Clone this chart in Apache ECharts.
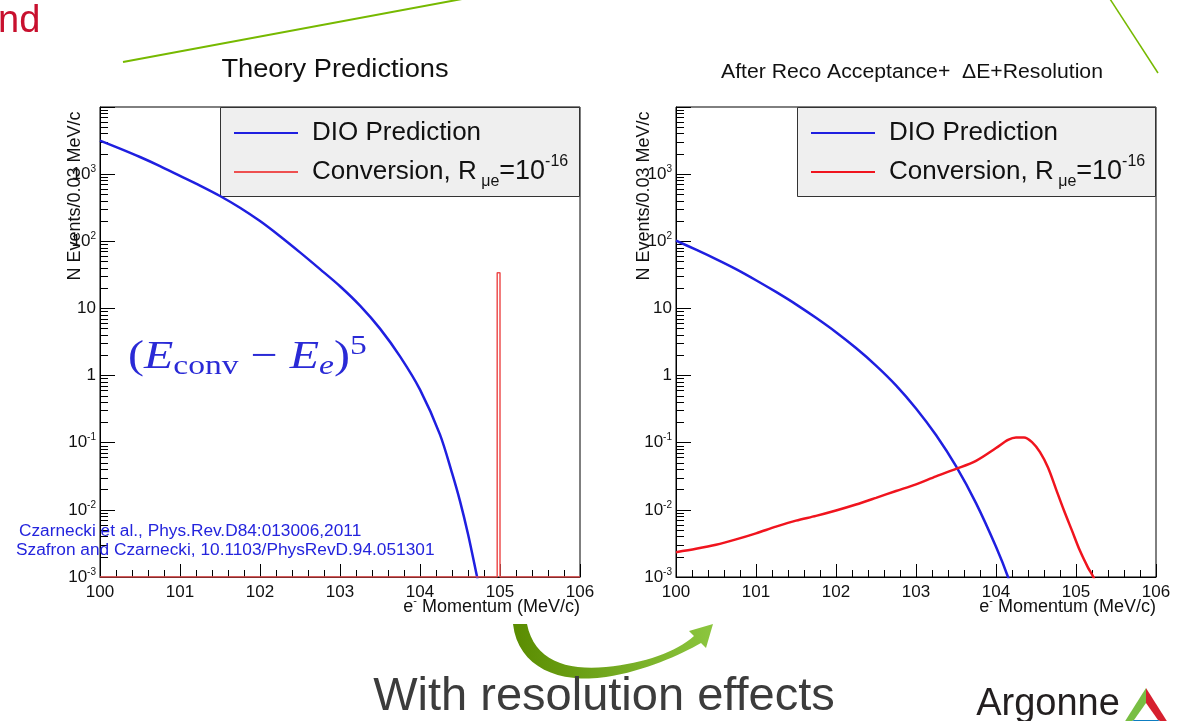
<!DOCTYPE html>
<html>
<head>
<meta charset="utf-8">
<script src="https://cdn.jsdelivr.net/npm/echarts@6/dist/echarts.min.js"></script>
<style>
html,body{margin:0;padding:0;background:#fff;}
#chart{width:1191px;height:721px;}
</style>
</head>
<body>
<div id="chart"></div>
<script>
// ---------------- data ----------------
// Left panel: theory predictions (N events / 0.03 MeV/c)
const dioLeftP = [100.00,100.25,100.50,100.75,101.00,101.25,101.50,101.75,102.00,102.25,102.50,102.75,103.00,103.25,103.50,103.75,104.00,104.25,104.40,104.50,104.60,104.70,104.73];
const dioLeftN = [3160,2400,1800,1318,944,676,473,316,200,119,68.4,38.5,21.4,11.0,5.0,1.93,0.617,0.132,0.0355,0.0135,0.00437,0.0012,0.0008];
const ceLeftP  = [100.0,104.965,104.965,105.0,105.0,106.0];
const ceLeftN  = [0.001,0.001,34,34,0.001,0.001];

// Right panel: after reco acceptance + dE + resolution
const dioRightP = [100.00,100.25,100.50,100.75,101.00,101.25,101.50,101.75,102.00,102.25,102.50,102.75,103.00,103.25,103.50,103.75,104.00,104.15,104.18];
const dioRightN = [102,75,54.3,38.5,26.3,17.6,11.5,7.24,4.42,2.57,1.41,0.716,0.324,0.130,0.0447,0.0126,0.00282,0.0010,0.0007];
const ceRightP = [100.00,100.25,100.50,100.75,101.00,101.25,101.50,101.75,102.00,102.25,102.50,102.75,103.00,103.25,103.50,103.75,104.00,104.15,104.25,104.35,104.45,104.55,104.65,104.75,104.85,104.95,105.05,105.15,105.22,105.25];
const ceRightN = [0.00234,0.00263,0.00302,0.00363,0.00447,0.00562,0.00692,0.00813,0.00977,0.0120,0.0151,0.0191,0.0240,0.0316,0.0407,0.0537,0.0832,0.110,0.120,0.120,0.102,0.0724,0.0427,0.0204,0.00977,0.0049,0.00245,0.00138,0.00098,0.0007];

// axis ranges / labels
const xMin = 100, xMax = 106, xStep = 1;
const yMin = 0.001, yMax = 10000;
const panelTitles = ['Theory Predictions', 'After Reco Acceptance+  \u0394E+Resolution'];
const yTitle = 'N Events/0.03 MeV/c';
const legendNames = { DIO: 'DIO Prediction', CE: 'Conversion, R{sub| \u03bce}{m|=10}{sup|-16}' };
const citations = ['Czarnecki et al., Phys.Rev.D84:013006,2011', 'Szafron and Czarnecki, 10.1103/PhysRevD.94.051301'];

// ---------------- chart ----------------
const FONT = '"Liberation Sans", Arial, Helvetica, sans-serif';
const SERIF = '"Liberation Serif", "DejaVu Serif", serif';
const zip = (xs, ys) => xs.map((x, i) => [x, ys[i]]);

function xAxisCfg(g) {
  return {
    type: 'value', gridIndex: g, min: xMin, max: xMax, interval: xStep,
    axisLine: { show: true, lineStyle: { color: '#000', width: 1 } },
    axisTick: { show: true, inside: true, length: 13, lineStyle: { color: '#000', width: 1 } },
    minorTick: { show: true, splitNumber: 5, length: 7, lineStyle: { color: '#000', width: 1 } },
    axisLabel: { fontSize: 17, color: '#111', margin: 7, fontFamily: FONT },
    splitLine: { show: false }, minorSplitLine: { show: false }
  };
}
function yAxisCfg(g) {
  return {
    type: 'log', logBase: 10, gridIndex: g, min: yMin, max: yMax,
    axisLine: { show: true, lineStyle: { color: '#000', width: 1 } },
    axisTick: { show: true, inside: true, length: 15, lineStyle: { color: '#000', width: 1 } },
    minorTick: { show: true, splitNumber: 9, length: 8, lineStyle: { color: '#000', width: 1 } },
    axisLabel: {
      fontSize: 17, color: '#111', margin: 4, fontFamily: FONT, lineHeight: 20,
      formatter: function (v) {
        const e = Math.round(Math.log10(v));
        if (e >= 4) return '';
        if (e === 0) return '1';
        if (e === 1) return '10';
        return '10{s|' + e + '}';
      },
      rich: { s: { fontSize: 10, lineHeight: 10, verticalAlign: 'top', fontFamily: FONT, color: '#111' } }
    },
    splitLine: { show: false }, minorSplitLine: { show: false }
  };
}
function legendCfg(left, names) {
  return {
    orient: 'vertical', left: left, top: 115, padding: 0, itemGap: 3,
    itemWidth: 64, itemHeight: 14, selectedMode: false,
    itemStyle: { opacity: 0 },
    data: names,
    formatter: function (n) { return n.indexOf('DIO') === 0 ? legendNames.DIO : legendNames.CE; },
    textStyle: {
      fontSize: 26, fontFamily: FONT, color: '#111', lineHeight: 36, padding: [0, 0, 0, 9],
      rich: {
        sub: { fontSize: 16, lineHeight: 4, verticalAlign: 'bottom', fontFamily: FONT, color: '#111' },
        m: { fontSize: 27, lineHeight: 36, fontFamily: FONT, color: '#111' },
        sup: { fontSize: 16, lineHeight: 14, verticalAlign: 'top', fontFamily: FONT, color: '#111' }
      }
    }
  };
}
function txt(x, y, text, opt) {
  opt = opt || {};
  return {
    type: 'text', x: x, y: y, rotation: opt.rotation || 0, scaleX: opt.scaleX || 1, z: opt.z || 5,
    style: {
      text: text, fill: opt.fill || '#111', fontSize: opt.fontSize || 16,
      fontFamily: opt.fontFamily || FONT, fontWeight: opt.fontWeight || 'normal',
      textAlign: opt.align || 'left', textVerticalAlign: opt.valign || 'middle',
      rich: opt.rich
    }
  };
}
const xTitleRich = { s: { fontSize: 11, lineHeight: 12, verticalAlign: 'top', fontFamily: FONT, fill: '#111' }, m: { fontSize: 18, lineHeight: 24, fontFamily: FONT, fill: '#111' } };
const xTitle = '{m|e}{s|-}{m| Momentum (MeV/c)}';

const FBLUE = '#2a2ad6';
const formulaRich = {
  p: { fontSize: 40, lineHeight: 48, fontFamily: SERIF, fill: FBLUE },
  E: { fontSize: 40, lineHeight: 48, fontFamily: SERIF, fontStyle: 'italic', fill: FBLUE },
  sub: { fontSize: 28, lineHeight: 30, verticalAlign: 'bottom', fontFamily: SERIF, fill: FBLUE },
  subi: { fontSize: 28, lineHeight: 30, verticalAlign: 'bottom', fontFamily: SERIF, fontStyle: 'italic', fill: FBLUE },
  sup: { fontSize: 28, lineHeight: 18, verticalAlign: 'top', fontFamily: SERIF, fill: FBLUE }
};

// curved decorative arrow (slide graphic), sampled from cubic curves
function cubic(p0, p1, p2, p3, n) {
  const out = [];
  for (let i = 0; i <= n; i++) {
    const t = i / n, u = 1 - t;
    out.push([u*u*u*p0[0] + 3*u*u*t*p1[0] + 3*u*t*t*p2[0] + t*t*t*p3[0],
              u*u*u*p0[1] + 3*u*u*t*p1[1] + 3*u*t*t*p2[1] + t*t*t*p3[1]]);
  }
  return out;
}
const arrowPts = [].concat(
  cubic([513,624],[518,668],[560,684],[606,677],16),
  cubic([606,677],[645,671],[680,655],[701,643],16),
  [[706,648],[713,624],[689,631],[694,636]],
  cubic([694,636],[676,652],[645,663],[606,667],16),
  cubic([606,667],[566,671],[534,660],[527,624],16)
);

const option = {
  animation: false,
  backgroundColor: '#fff',
  grid: [
    { left: 100, top: 107, width: 480, height: 470, show: true, borderColor: '#000', borderWidth: 1, backgroundColor: 'transparent' },
    { left: 676, top: 107, width: 480, height: 470, show: true, borderColor: '#000', borderWidth: 1, backgroundColor: 'transparent' }
  ],
  xAxis: [xAxisCfg(0), xAxisCfg(1)],
  yAxis: [yAxisCfg(0), yAxisCfg(1)],
  legend: [legendCfg(233, ['DIO_L', 'CE_L']), legendCfg(810, ['DIO_R', 'CE_R'])],
  series: [
    { name: 'DIO_L', type: 'line', xAxisIndex: 0, yAxisIndex: 0, data: zip(dioLeftP, dioLeftN), symbol: 'none', smooth: 0.3,
      lineStyle: { color: '#1f1fe0', width: 2.5 }, itemStyle: { color: '#1f1fe0' } },
    { name: 'CE_L', type: 'line', xAxisIndex: 0, yAxisIndex: 0, data: zip(ceLeftP, ceLeftN), symbol: 'none', smooth: false,
      lineStyle: { color: '#ee5050', width: 1.5 }, itemStyle: { color: '#ee5050' } },
    { name: 'DIO_R', type: 'line', xAxisIndex: 1, yAxisIndex: 1, data: zip(dioRightP, dioRightN), symbol: 'none', smooth: 0.3,
      lineStyle: { color: '#1f1fe0', width: 2.5 }, itemStyle: { color: '#1f1fe0' } },
    { name: 'CE_R', type: 'line', xAxisIndex: 1, yAxisIndex: 1, data: zip(ceRightP, ceRightN), symbol: 'none', smooth: 0.3,
      lineStyle: { color: '#f0141e', width: 2.5 }, itemStyle: { color: '#f0141e' } }
  ],
  graphic: [
    // legend boxes
    { type: 'rect', z: 3, shape: { x: 220.5, y: 107.5, width: 359, height: 89 }, style: { fill: '#efefef', stroke: '#333', lineWidth: 1 } },
    { type: 'rect', z: 3, shape: { x: 797.5, y: 107.5, width: 358, height: 89 }, style: { fill: '#efefef', stroke: '#333', lineWidth: 1 } },
    // panel titles
    txt(335, 70, panelTitles[0], { fontSize: 25, align: 'center', scaleX: 1.09 }),
    txt(912, 72, panelTitles[1], { fontSize: 20, align: 'center', scaleX: 1.06 }),
    // y titles
    txt(75, 196, yTitle, { fontSize: 18, align: 'center', rotation: Math.PI / 2 }),
    txt(644, 196, yTitle, { fontSize: 18, align: 'center', rotation: Math.PI / 2 }),
    // x titles
    txt(580, 607, xTitle, { align: 'right', rich: xTitleRich }),
    txt(1156, 607, xTitle, { align: 'right', rich: xTitleRich }),
    // formula
    txt(128, 357, '{p|(}{E|E}{sub|conv}{p| \u2212 }{E|E}{subi|e}{p|)}{sup|5}', { rich: formulaRich, scaleX: 1.2 }),
    // citations
    txt(19, 532, citations[0], { fontSize: 16, fill: '#2424dd', scaleX: 1.08 }),
    txt(16, 551, citations[1], { fontSize: 16, fill: '#2424dd', scaleX: 1.08 }),
    // slide decorations
    txt(-2, 22, 'nd', { fontSize: 38, fill: '#c8102e' }),
    { type: 'line', z: 1, shape: { x1: 123, y1: 62, x2: 462, y2: -1 }, style: { stroke: '#76b900', lineWidth: 2 } },
    { type: 'line', z: 1, shape: { x1: 1110, y1: -1, x2: 1158, y2: 73 }, style: { stroke: '#76b900', lineWidth: 1.5 } },
    { type: 'polygon', z: 1, shape: { points: arrowPts },
      style: { fill: { type: 'linear', x: 0, y: 0, x2: 1, y2: 0, colorStops: [{ offset: 0, color: '#5a8c00' }, { offset: 1, color: '#8cc63f' }] } } },
    txt(604, 697, 'With resolution effects', { fontSize: 47, fill: '#3c3c3c', align: 'center' }),
    txt(1048, 724, 'Argonne', { fontSize: 38, fill: '#231f20', align: 'center', valign: 'bottom' }),
    { type: 'polygon', z: 1, shape: { points: [[1146, 688], [1122, 726], [1134, 720], [1146, 703]] }, style: { fill: '#78be43' } },
    { type: 'polygon', z: 1, shape: { points: [[1146, 688], [1146, 703], [1158, 720], [1170, 726]] }, style: { fill: '#d6202f' } },
    { type: 'polygon', z: 1, shape: { points: [[1122, 726], [1134, 720], [1158, 720], [1170, 726]] }, style: { fill: '#0d7dc1' } }
  ]
};

const chart = echarts.init(document.getElementById('chart'), null, { renderer: 'canvas' });
chart.setOption(option);
</script>
</body>
</html>
